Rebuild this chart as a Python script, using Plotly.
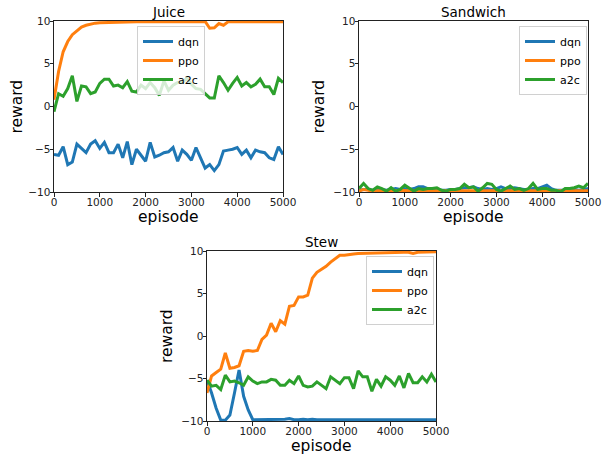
import plotly.graph_objects as go

episodes = list(range(0, 5001, 100))

juice_dqn = [-5.6, -5.7, -4.7, -6.8, -6.5, -4.4, -4.9, -5.4, -4.4, -4.0,
             -4.9, -4.2, -5.4, -5.4, -4.4, -6.0, -4.1, -6.8, -5.0, -5.7,
             -6.4, -4.2, -5.9, -5.7, -5.4, -5.3, -4.8, -6.4, -5.1, -5.6,
             -6.3, -4.8, -6.1, -7.2, -6.8, -7.5, -6.8, -5.2, -5.1, -5.0,
             -4.8, -5.6, -5.1, -6.0, -5.1, -5.3, -5.4, -6.0, -6.2, -4.7,
             -5.6]
juice_ppo = [0.8, 4.1, 6.4, 7.6, 8.4, 8.9, 9.3, 9.5, 9.65, 9.75,
             9.8, 9.82, 9.85, 9.85, 9.87, 9.88, 9.9, 9.9, 9.9, 9.9,
             9.9, 9.9, 9.92, 9.92, 9.93, 9.93, 9.95, 9.95, 9.95, 9.95,
             9.95, 9.95, 9.95, 9.95, 9.15, 9.2, 9.7, 9.5, 9.9, 9.9,
             9.9, 9.9, 9.9, 9.9, 9.9, 9.9, 9.9, 9.9, 9.9, 9.9,
             9.9]
juice_a2c = [-0.6, 1.5, 1.2, 2.1, 3.6, 0.6, 2.4, 2.3, 1.5, 1.7,
             2.7, 3.2, 3.2, 2.4, 2.5, 2.2, 2.9, 1.8, 1.7, 2.5,
             2.1, 2.8, 2.2, 1.3, 3.0, 1.9, 2.5, 2.8, 2.8, 3.3,
             2.6, 2.1, 2.0, 1.5, 1.0, 1.0, 3.6, 2.8, 1.9, 2.7,
             3.4, 2.4, 2.8, 2.3, 2.6, 3.2, 2.3, 2.3, 1.4, 3.3,
             2.8]

sandwich_dqn = [-9.8, -9.7, -9.7, -9.8, -9.7, -9.7, -9.8, -9.7, -9.6, -9.7,
                -9.6, -9.7, -9.6, -9.4, -9.4, -9.6, -9.6, -9.7, -9.8, -9.8,
                -9.7, -9.7, -9.6, -9.5, -9.5, -9.4, -9.6, -9.7, -9.6, -9.7,
                -9.6, -9.4, -9.6, -9.6, -9.5, -9.6, -9.7, -9.7, -9.6, -9.6,
                -9.4, -9.2, -9.6, -9.8, -9.8, -9.8, -9.8, -9.7, -9.8, -9.7,
                -9.6]
sandwich_ppo = [-9.9, -9.7, -9.8, -9.9, -9.85, -9.85, -9.9, -9.85, -9.85, -9.8,
                -9.85, -9.85, -9.85, -9.9, -9.85, -9.85, -9.85, -9.8, -9.85, -9.85,
                -9.85, -9.85, -9.85, -9.85, -9.8, -9.85, -9.85, -9.85, -9.8, -9.85,
                -9.85, -9.85, -9.85, -9.85, -9.85, -9.85, -9.85, -9.85, -9.85, -9.85,
                -9.85, -9.85, -9.8, -9.85, -9.85, -9.85, -9.85, -9.85, -9.85, -9.85,
                -9.85]
sandwich_a2c = [-9.6, -9.0, -9.6, -9.8, -9.4, -9.6, -9.9, -9.5, -9.9, -9.7,
                -9.2, -9.6, -9.9, -9.6, -9.7, -9.6, -9.6, -9.5, -9.8, -9.9,
                -9.7, -9.7, -9.6, -9.1, -9.5, -9.4, -9.9, -9.5, -9.0, -9.1,
                -9.7, -9.9, -9.6, -9.3, -9.7, -9.6, -9.8, -9.6, -9.0, -9.7,
                -9.6, -9.6, -9.8, -9.8, -10.0, -9.6, -9.6, -9.5, -9.3, -9.5,
                -9.0]

stew_dqn = [-5.2, -6.7, -8.5, -9.9, -9.9, -9.3, -6.7, -4.0, -7.1, -8.7,
            -9.85, -9.85, -9.85, -9.85, -9.85, -9.85, -9.85, -9.8, -9.7, -9.85,
            -9.85, -9.8, -9.85, -9.8, -9.85, -9.85, -9.85, -9.8, -9.85, -9.85,
            -9.85, -9.85, -9.8, -9.85, -9.85, -9.85, -9.8, -9.85, -9.85, -9.85,
            -9.85, -9.85, -9.8, -9.85, -9.85, -9.8, -9.85, -9.85, -9.85, -9.85,
            -9.85]
stew_ppo = [-6.7, -4.7, -4.3, -3.9, -2.0, -3.8, -3.7, -3.5, -1.8, -1.7,
            -1.8, -1.7, -0.4, 0.1, 1.5, 0.5, 1.8, 1.4, 3.5, 3.6,
            4.6, 4.6, 4.8, 6.8, 7.5, 7.8, 8.2, 8.7, 9.1, 9.5,
            9.5, 9.6, 9.65, 9.7, 9.72, 9.75, 9.75, 9.8, 9.8, 9.82,
            9.85, 9.8, 9.85, 9.85, 9.85, 9.7, 9.85, 9.85, 9.9, 9.9,
            9.9]
stew_a2c = [-5.2, -5.9, -5.8, -6.3, -4.6, -5.4, -5.3, -5.5, -5.8, -4.8,
            -5.3, -5.6, -5.4, -5.4, -5.1, -5.2, -5.8, -5.8, -5.2, -5.6,
            -4.7, -5.8, -6.0, -5.9, -5.4, -5.8, -6.2, -4.8, -5.2, -5.6,
            -4.9, -4.9, -6.2, -4.1, -4.8, -4.8, -6.5, -5.1, -5.9, -4.8,
            -5.2, -5.8, -4.7, -6.1, -4.4, -5.5, -5.5, -4.8, -5.4, -4.5,
            -5.4]

series_names = ["dqn", "ppo", "a2c"]
colors = ["#1f77b4", "#ff7f0e", "#2ca02c"]
panel_titles = ["Juice", "Sandwich", "Stew"]
x_label = "episode"
y_label = "reward"
panels = [
    [juice_dqn, juice_ppo, juice_a2c],
    [sandwich_dqn, sandwich_ppo, sandwich_a2c],
    [stew_dqn, stew_ppo, stew_a2c],
]
x_ticks = [0, 1000, 2000, 3000, 4000, 5000]
x_tick_labels = ["0", "1000", "2000", "3000", "4000", "5000"]
y_ticks = [-10, -5, 0, 5, 10]
y_tick_labels = ["\u221210", "\u22125", "0", "5", "10"]

W, H = 602, 455
# plot areas in pixels: (left, right, top, bottom)
boxes = [(54, 283, 21, 192), (359, 588, 21, 192), (207, 436, 251, 421)]
legend_pos = [(137, 26), (519, 26), (366, 256)]
ylabel_x = [16, 318, 167]

FONT = "DejaVu Sans"
fig = go.Figure()
layout = dict(
    width=W, height=H, autosize=False,
    margin=dict(l=0, r=0, t=0, b=0, autoexpand=False),
    paper_bgcolor="white", plot_bgcolor="white",
    font=dict(family=FONT, color="black"),
    showlegend=True,
    annotations=[],
)

for i, (title, data) in enumerate(zip(panel_titles, panels)):
    sfx = "" if i == 0 else str(i + 1)
    lg = "legend" if i == 0 else f"legend{i + 1}"
    for name, vals, col in zip(series_names, data, colors):
        fig.add_trace(go.Scatter(
            x=episodes, y=vals, mode="lines", name=name,
            line=dict(color=col, width=3),
            xaxis="x" + sfx, yaxis="y" + sfx, legend=lg,
        ))
    l, r, t, b = boxes[i]
    axcommon = dict(showline=True, mirror=True, linecolor="#222", linewidth=1,
                    ticks="outside", ticklen=3.5, tickcolor="#222",
                    showgrid=False, zeroline=False, automargin=False,
                    ticklabelstandoff=-3,
                    tickfont=dict(size=10.5, family=FONT, color="#222"))
    layout["xaxis" + sfx] = dict(
        domain=[l / W, r / W], anchor="y" + sfx, range=[0, 5000],
        tickvals=x_ticks, ticktext=x_tick_labels, **axcommon)
    layout["yaxis" + sfx] = dict(
        domain=[1 - b / H, 1 - t / H], anchor="x" + sfx, range=[-10, 10],
        tickvals=y_ticks, ticktext=y_tick_labels, **axcommon)
    lx, ly = legend_pos[i]
    layout[lg] = dict(
        x=lx / W, y=1 - ly / H, xanchor="left", yanchor="top",
        bgcolor="rgba(255,255,255,0.8)", bordercolor="#d0d0d0", borderwidth=1,
        font=dict(size=11, family=FONT), tracegroupgap=0, itemwidth=30,
    )
    layout["annotations"] += [
        dict(text=title, x=(l + r) / 2 / W, y=1 - (t - 9) / H,
             xref="paper", yref="paper", xanchor="center", yanchor="middle",
             showarrow=False, font=dict(size=13.5, family=FONT)),
        dict(text=x_label, x=(l + r) / 2 / W, y=1 - (b + 25) / H,
             xref="paper", yref="paper", xanchor="center", yanchor="middle",
             showarrow=False, font=dict(size=15.5, family=FONT)),
        dict(text=y_label, x=ylabel_x[i] / W, y=1 - (t + b) / 2 / H,
             xref="paper", yref="paper", xanchor="center", yanchor="middle",
             textangle=-90, showarrow=False, font=dict(size=15.5, family=FONT)),
    ]

fig.update_layout(**layout)
fig.write_html("out.html", config={"displayModeBar": False},
               post_script="document.body.style.margin='0px';document.body.style.padding='0px';")
